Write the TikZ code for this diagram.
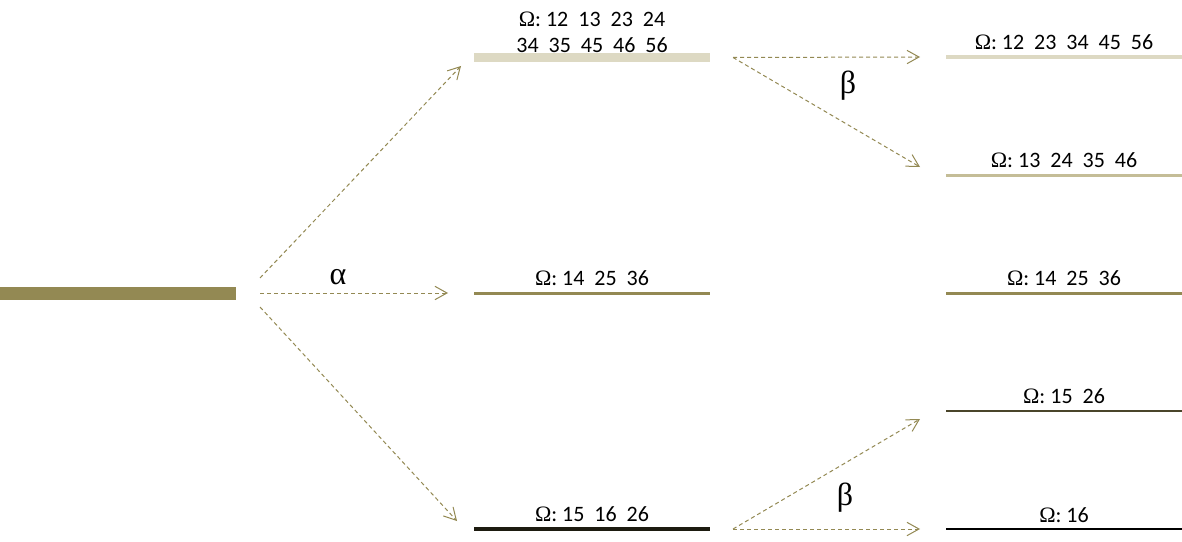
\documentclass[tikz,border=0pt]{standalone}
\usepackage{fontspec}
\setmainfont{Carlito}
\newfontfamily\greekfont{Liberation Serif}
\usepackage{xcolor}
\usetikzlibrary{positioning, arrows.meta, calc}
\definecolor{tanlight}{HTML}{DDD9C3}
\definecolor{tanmid}{HTML}{C4BD97}
\definecolor{olive}{HTML}{938953}
\definecolor{olivedark}{HTML}{4A452A}
\definecolor{olivedeep}{HTML}{1D1B10}
\newcommand{\om}{{\greekfont Ω}}

\begin{document}
\begin{tikzpicture}[x=0.75pt, y=-0.75pt,
  level/.style={inner sep=0pt, outer sep=0pt, minimum width=177pt},
  lbl/.style={inner sep=0pt, align=center, font=\fontsize{16.5}{19.5}\selectfont},
  greek/.style={inner sep=0pt, font=\greekfont\fontsize{24}{26}\selectfont},
  arrow/.style={-{Straight Barb[length=9pt,width=10pt]}, draw=olive, line width=0.75pt, dash pattern=on 3pt off 2.25pt}]
\useasboundingbox (0,0) rectangle (1182,542);
\node[level, fill=olive, minimum height=9.75pt] (ground) at (118,293) {};
\node[level, fill=tanlight, minimum height=6.75pt] (sym) at (592,57.5) {};
\node[level, fill=olive, minimum height=2.25pt] (mid) at (592,293) {};
\node[level, fill=olivedeep, minimum height=3pt] (low) at (592,529) {};
\node[level, fill=tanlight, minimum height=3pt] (symA) at (1064,57) {};
\node[level, fill=tanmid, minimum height=2.25pt] (symB) at (1064,175) {};
\node[level, fill=olive, minimum height=2.25pt] (midA) at (1064,293) {};
\node[level, fill=olivedark, minimum height=1.9pt] (lowA) at (1064,411) {};
\node[level, fill=black, minimum height=1.1pt] (lowB) at (1064,529) {};
\node[lbl, above=0pt of sym] (symtext) {\om: 12~~13~~23~~24\\34~~35~~45~~46~~56};
\node[lbl, above=4pt of mid] (midtext) {\om: 14~~25~~36};
\node[lbl, above=4pt of low] (lowtext) {\om: 15~~16~~26};
\node[lbl, above=4pt of symA] (symAtext) {\om: 12~~23~~34~~45~~56};
\node[lbl, above=4pt of symB] (symBtext) {\om: 13~~24~~35~~46};
\node[lbl, above=4pt of midA] (midAtext) {\om: 14~~25~~36};
\node[lbl, above=4pt of lowA] (lowAtext) {\om: 15~~26};
\node[lbl, above=4pt of lowB] (lowBtext) {\om: 16};
\node[greek] (alpha) at (338,277) {α};
\node[greek] (betaup) at (848,86) {β};
\node[greek] (betalow) at (845,498) {β};
\draw[arrow] ($(ground.east)+(24,-15)$) -- ($(sym.west)+(-13,8.5)$);
\draw[arrow] ($(ground.east)+(24,0)$) -- ($(mid.west)+(-26,0)$);
\draw[arrow] ($(ground.east)+(24,14)$) -- ($(low.west)+(-17,-8)$);
\draw[arrow] ($(sym.east)+(23,0)$) -- ($(symA.west)+(-26,0)$);
\draw[arrow] ($(sym.east)+(23,0)$) -- ($(symB.west)+(-26,-8)$);
\draw[arrow] ($(low.east)+(23,0)$) -- ($(lowA.west)+(-26,8)$);
\draw[arrow] ($(low.east)+(23,0)$) -- ($(lowB.west)+(-26,0)$);
\end{tikzpicture}
\end{document}
